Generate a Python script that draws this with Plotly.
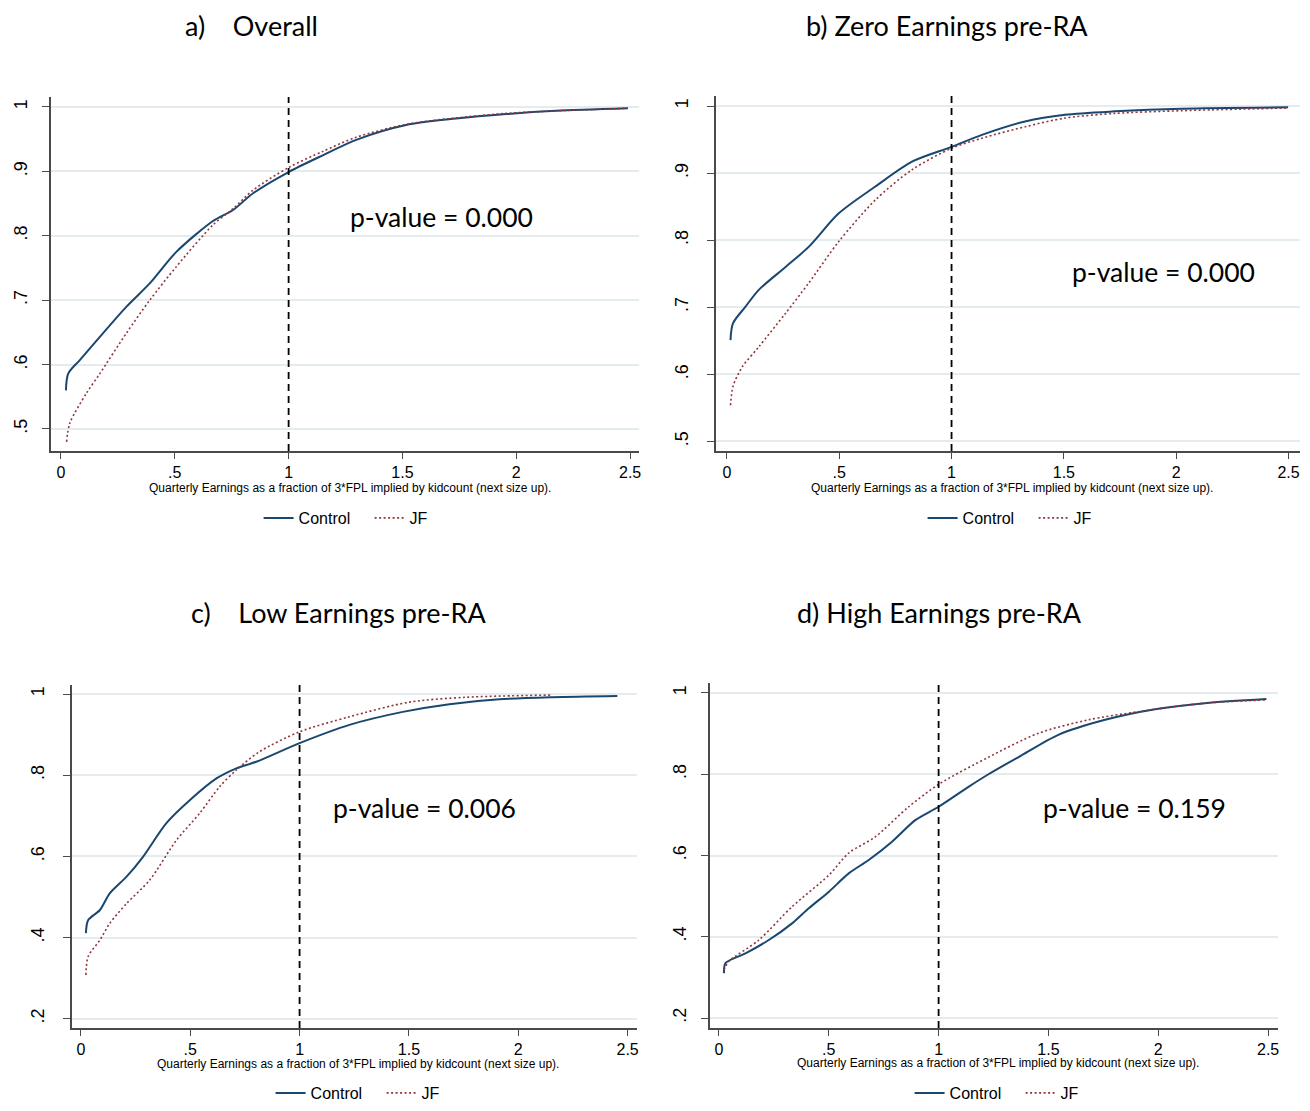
import plotly.graph_objects as go

# ---- Cumulative distributions of quarterly earnings (fraction of 3*FPL) ----
panel_titles = ["a)\u00a0\u00a0\u00a0\u00a0Overall", "b) Zero Earnings pre-RA",
                "c)\u00a0\u00a0\u00a0\u00a0Low Earnings pre-RA", "d) High Earnings pre-RA"]
p_values = ["p-value = 0.000", "p-value = 0.000", "p-value = 0.006", "p-value = 0.159"]
series_names = ["Control", "JF"]

overall_ctrl_x = [0.022, 0.032, 0.083, 0.171, 0.288, 0.390, 0.507, 0.668, 0.756, 0.844, 1.0, 1.15, 1.297, 1.516, 1.735, 1.955, 2.174, 2.49]
overall_ctrl_y = [0.560, 0.586, 0.607, 0.643, 0.690, 0.726, 0.775, 0.823, 0.840, 0.866, 0.899, 0.925, 0.949, 0.972, 0.982, 0.989, 0.994, 0.998]
overall_jf_x = [0.025, 0.039, 0.113, 0.171, 0.288, 0.390, 0.507, 0.668, 0.756, 0.844, 1.0, 1.15, 1.297, 1.516, 1.735, 1.955, 2.174, 2.49]
overall_jf_y = [0.480, 0.509, 0.556, 0.586, 0.649, 0.700, 0.752, 0.817, 0.842, 0.871, 0.906, 0.931, 0.953, 0.973, 0.983, 0.990, 0.994, 0.998]

zero_ctrl_x = [0.016, 0.027, 0.083, 0.142, 0.261, 0.364, 0.498, 0.661, 0.824, 1.0, 1.135, 1.327, 1.505, 1.727, 2.024, 2.498]
zero_ctrl_y = [0.651, 0.676, 0.701, 0.726, 0.760, 0.790, 0.840, 0.880, 0.917, 0.939, 0.957, 0.977, 0.987, 0.992, 0.996, 0.998]
zero_jf_x = [0.016, 0.027, 0.068, 0.142, 0.261, 0.364, 0.498, 0.661, 0.824, 1.0, 1.135, 1.327, 1.505, 1.727, 2.024, 2.498]
zero_jf_y = [0.554, 0.582, 0.611, 0.641, 0.691, 0.736, 0.798, 0.860, 0.905, 0.937, 0.952, 0.969, 0.982, 0.989, 0.993, 0.997]

low_ctrl_x = [0.023, 0.033, 0.087, 0.132, 0.209, 0.284, 0.391, 0.499, 0.62, 0.711, 0.802, 1.0, 1.228, 1.472, 1.685, 1.913, 2.157, 2.453]
low_ctrl_y = [0.411, 0.443, 0.468, 0.509, 0.550, 0.599, 0.682, 0.739, 0.792, 0.817, 0.833, 0.879, 0.924, 0.956, 0.975, 0.987, 0.992, 0.995]
low_jf_x = [0.023, 0.033, 0.087, 0.132, 0.209, 0.315, 0.437, 0.543, 0.635, 0.711, 0.817, 1.0, 1.228, 1.502, 1.761, 2.157]
low_jf_y = [0.308, 0.353, 0.394, 0.435, 0.484, 0.542, 0.640, 0.706, 0.772, 0.813, 0.858, 0.907, 0.944, 0.980, 0.992, 0.9975]

high_ctrl_x = [0.023, 0.030, 0.121, 0.227, 0.333, 0.409, 0.501, 0.591, 0.682, 0.788, 0.894, 1.0, 1.136, 1.227, 1.379, 1.545, 1.758, 1.985, 2.212, 2.492]
high_ctrl_y = [0.310, 0.335, 0.359, 0.392, 0.433, 0.470, 0.511, 0.556, 0.589, 0.634, 0.687, 0.720, 0.769, 0.800, 0.847, 0.897, 0.934, 0.960, 0.975, 0.985]
high_jf_x = [0.023, 0.045, 0.182, 0.333, 0.501, 0.591, 0.712, 0.864, 1.0, 1.227, 1.455, 1.682, 1.909, 2.212, 2.492]
high_jf_y = [0.318, 0.339, 0.392, 0.474, 0.552, 0.606, 0.646, 0.720, 0.775, 0.842, 0.901, 0.934, 0.954, 0.975, 0.983]

x_tick_vals = [0, 0.5, 1, 1.5, 2, 2.5]
x_tick_text = ["0", ".5", "1", "1.5", "2", "2.5"]
y_ticks_top = [0.5, 0.6, 0.7, 0.8, 0.9, 1.0]
y_ticks_top_text = [".5", ".6", ".7", ".8", ".9", "1"]
y_ticks_bottom = [0.2, 0.4, 0.6, 0.8, 1.0]
y_ticks_bottom_text = [".2", ".4", ".6", ".8", "1"]

x_axis_title = "Quarterly Earnings as a fraction of 3*FPL implied by kidcount (next size up)."

W, H = 1310, 1111
NAVY = "#1a476f"
MAROON = "#90353b"
GRID = "#e4ecef"
AXIS = "#4a4a4a"
X_TICK_FONT = dict(family="Liberation Sans, Arial", size=16, color="black")
Y_TICK_FONT = dict(family="Liberation Sans, Arial", size=18, color="black")
TEXT_FONT = "Lato, Calibri, sans-serif"

panels = [
    dict(ctrl=(overall_ctrl_x, overall_ctrl_y), jf=(overall_jf_x, overall_jf_y),
         px=(51, 640), py=(97, 451), xr=(-0.0439, 2.539), yr=(0.4658, 1.0155),
         yt=(y_ticks_top, y_ticks_top_text), standoff=8,
         title_xy=(252, 25), pval_xy=(1.263, 0.829), xtitle_xy=(351, 488), legend_left=263, legend_y=518),
    dict(ctrl=(zero_ctrl_x, zero_ctrl_y), jf=(zero_jf_x, zero_jf_y),
         px=(717, 1302), py=(96, 451), xr=(-0.0489, 2.551), yr=(0.4858, 1.0149),
         yt=(y_ticks_top, y_ticks_top_text), standoff=12,
         title_xy=(948, 25), pval_xy=(1.529, 0.753), xtitle_xy=(1014, 488), legend_left=928, legend_y=518),
    dict(ctrl=(low_ctrl_x, low_ctrl_y), jf=(low_jf_x, low_jf_y),
         px=(72, 638), py=(685, 1028), xr=(-0.0411, 2.543), yr=(0.1773, 1.0222),
         yt=(y_ticks_bottom, y_ticks_bottom_text), standoff=12,
         title_xy=(339, 612), pval_xy=(1.142, 0.719), xtitle_xy=(359, 1064), legend_left=275, legend_y=1093),
    dict(ctrl=(high_ctrl_x, high_ctrl_y), jf=(high_jf_x, high_jf_y),
         px=(711, 1280), py=(683, 1028), xr=(-0.0409, 2.545), yr=(0.1754, 1.0246),
         yt=(y_ticks_bottom, y_ticks_bottom_text), standoff=8,
         title_xy=(941, 612), pval_xy=(1.468, 0.717), xtitle_xy=(1000, 1063), legend_left=915, legend_y=1093),
]

fig = go.Figure()
annotations = []
shapes = []
layout = {}

for i, p in enumerate(panels):
    k = "" if i == 0 else str(i + 1)
    xa, ya = "x" + k, "y" + k
    leg = "legend" + k

    fig.add_trace(go.Scatter(x=p["ctrl"][0], y=p["ctrl"][1], mode="lines", name=series_names[0],
                             line=dict(color=NAVY, width=2, shape="spline", smoothing=0.8),
                             xaxis=xa, yaxis=ya, legend=leg))
    fig.add_trace(go.Scatter(x=p["jf"][0], y=p["jf"][1], mode="lines", name=series_names[1],
                             line=dict(color=MAROON, width=1.6, dash="2px,2.5px", shape="spline", smoothing=0.8),
                             xaxis=xa, yaxis=ya, legend=leg))

    layout["xaxis" + k] = dict(
        domain=[p["px"][0] / W, p["px"][1] / W], range=list(p["xr"]), anchor=ya,
        tickvals=x_tick_vals, ticktext=x_tick_text, ticks="outside", ticklen=6,
        tickcolor=AXIS, tickwidth=1.2, showline=True, linecolor=AXIS, linewidth=1.5,
        showgrid=False, zeroline=False, tickfont=X_TICK_FONT)
    layout["yaxis" + k] = dict(
        domain=[1 - p["py"][1] / H, 1 - p["py"][0] / H], range=list(p["yr"]), anchor=xa,
        tickvals=p["yt"][0], ticktext=p["yt"][1], ticks="outside", ticklen=7,
        tickcolor=AXIS, tickwidth=1.2, showline=True, linecolor=AXIS, linewidth=1.5,
        showgrid=True, gridcolor=GRID, gridwidth=1.5, zeroline=False,
        tickangle=-90, tickfont=Y_TICK_FONT, ticklabelstandoff=p["standoff"])
    layout[leg] = dict(
        orientation="h", x=(p["legend_left"] - 4) / W, y=1 - p["legend_y"] / H,
        xanchor="left", yanchor="middle", bgcolor="rgba(0,0,0,0)",
        font=dict(family="Liberation Sans, Arial", size=16, color="black"),
        itemwidth=30, entrywidth=66, tracegroupgap=0)

    # vertical reference line at one times 3*FPL
    shapes.append(dict(type="line", xref=xa, yref=ya + " domain", x0=1, x1=1, y0=0, y1=1,
                       line=dict(color="black", width=1.8, dash="7px,5px")))

    annotations.append(dict(text=panel_titles[i], xref="paper", yref="paper",
                            x=p["title_xy"][0] / W, y=1 - p["title_xy"][1] / H,
                            xanchor="center", yanchor="middle", showarrow=False,
                            font=dict(family=TEXT_FONT, size=27, color="black")))
    annotations.append(dict(text=p_values[i], xref=xa, yref=ya,
                            x=p["pval_xy"][0], y=p["pval_xy"][1],
                            xanchor="left", yanchor="middle", showarrow=False,
                            font=dict(family=TEXT_FONT, size=26.5, color="black")))
    annotations.append(dict(text=x_axis_title, xref="paper", yref="paper",
                            x=p["xtitle_xy"][0] / W, y=1 - p["xtitle_xy"][1] / H,
                            xanchor="center", yanchor="middle", showarrow=False,
                            font=dict(family="Liberation Sans, Arial", size=12, color="black")))

fig.update_layout(
    width=W, height=H, margin=dict(l=0, r=0, t=0, b=0),
    paper_bgcolor="white", plot_bgcolor="white",
    annotations=annotations, shapes=shapes, **layout)

fig.write_html("out.html")
